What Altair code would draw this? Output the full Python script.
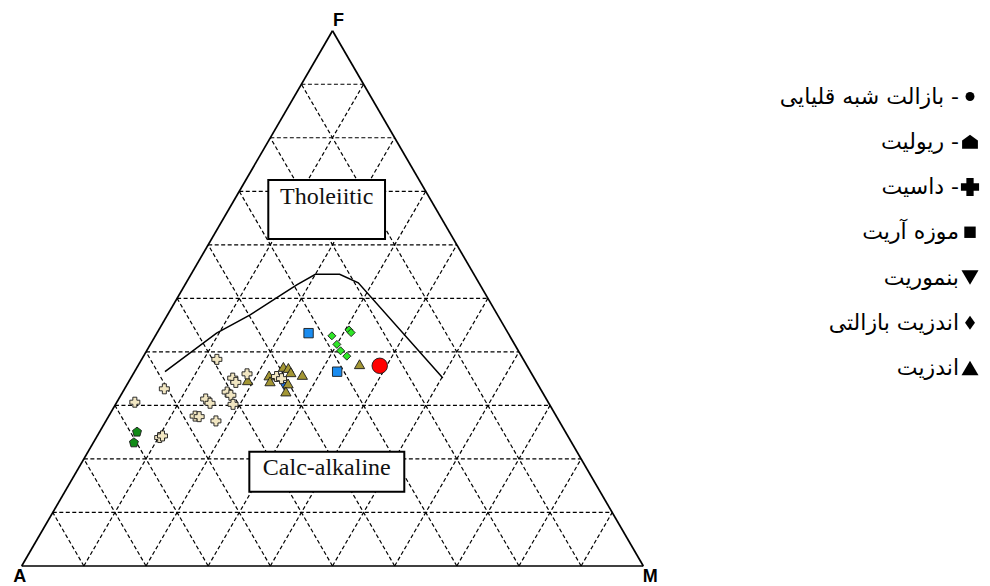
import altair as alt
import pandas as pd

# ---------------- data (ternary %, F = FeO*, M = MgO; A = 100 - F - M) ----------------
categories = ["بازالت شبه قلیایی", "ریولیت", "داسیت", "موزه آریت", "بنموریت", "اندزیت بازالتی", "اندزیت"]
legend_labels = ["بازالت شبه قلیایی -", "ریولیت -", "داسیت -", "موزه آریت", "بنموریت", "اندزیت بازالتی", "اندزیت"]

alk_basalt_F = [37.4]
alk_basalt_M = [38.9]
rhyolite_F = [25.1, 23.1]
rhyolite_M = [6.0, 6.5]
dacite_F = [38.6, 33.1, 30.6, 35.1, 34.3, 35.9, 31.2, 30.4, 32.5, 31.9, 30.2, 28.0, 27.9, 27.1, 24.0, 24.3, 35.4, 35.0]
dacite_M = [12.1, 6.4, 2.9, 16.4, 17.3, 18.3, 14.0, 15.1, 16.8, 17.7, 18.9, 13.9, 14.6, 17.7, 10.2, 10.5, 23.3, 24.3]
mugearite_F = [43.5, 36.3]
mugearite_M = [24.4, 32.6]
benmoreite_F = [33.6]
benmoreite_M = [25.4]
bas_andesite_F = [43.0, 44.1, 43.6, 41.4, 40.2, 39.2]
bas_andesite_M = [28.4, 30.6, 31.2, 30.0, 31.2, 32.7]
andesite_F = [34.7, 37.2, 37.0, 36.2, 35.7, 35.6, 34.5, 34.1, 32.6, 37.7]
andesite_M = [19.0, 23.5, 24.4, 25.2, 27.3, 22.0, 22.7, 25.8, 26.2, 35.5]

# Irvine & Baragar boundary
curve_F = [36.3, 43.5, 46.9, 50.9, 52.5, 54.5, 54.5, 52.9, 35.1]
curve_M = [4.9, 9.6, 13.3, 16.6, 18.0, 20.0, 23.9, 27.7, 50.2]

grid_ticks = [10, 20, 30, 40, 50, 60, 70, 80, 90]

field_names = ["Tholeiitic", "Calc-alkaline"]
field_box_x = [39.67, 36.62]
field_box_x2 = [58.45, 61.55]
field_box_y = [61.09, 13.88]
field_box_y2 = [72.11, 21.35]
field_text_x = [49.06, 49.08]
field_text_y = [67.63, 17.0]

corner_names = ["A", "F", "M"]

# ---------------- helpers ----------------
def tx(F, M):
    return M + F / 2.0

def ty(F, M):
    return F

X_DOM = [-2.204, 154.488]
Y_DOM = [-3.736, 104.241]
xs = alt.Scale(domain=X_DOM, nice=False, zero=False)
ys = alt.Scale(domain=Y_DOM, nice=False, zero=False)

def X(f):
    return alt.X(f, type="quantitative", scale=xs, axis=None)

def Y(f):
    return alt.Y(f, type="quantitative", scale=ys, axis=None)

# grid segments
g = []
for t in grid_ticks:
    g.append({"x": tx(t, 0), "y": ty(t, 0), "x2": tx(t, 100 - t), "y2": ty(t, 100 - t)})
    g.append({"x": tx(0, t), "y": ty(0, t), "x2": tx(100 - t, t), "y2": ty(100 - t, t)})
    g.append({"x": tx(0, 100 - t), "y": ty(0, 100 - t), "x2": tx(100 - t, 0), "y2": ty(100 - t, 0)})
grid_df = pd.DataFrame(g)

corners_F = [0, 0, 100]
corners_M = [0, 100, 0]
ol = []
for k in range(3):
    j = (k + 1) % 3
    ol.append({"x": tx(corners_F[k], corners_M[k]), "y": ty(corners_F[k], corners_M[k]),
               "x2": tx(corners_F[j], corners_M[j]), "y2": ty(corners_F[j], corners_M[j])})
outline_df = pd.DataFrame(ol)

curve_df = pd.DataFrame({"x": [tx(f, m) for f, m in zip(curve_F, curve_M)],
                         "y": [ty(f, m) for f, m in zip(curve_F, curve_M)],
                         "i": list(range(len(curve_F)))})

box_df = pd.DataFrame({"name": field_names, "x": field_box_x, "x2": field_box_x2,
                       "y": field_box_y, "y2": field_box_y2,
                       "tx": field_text_x, "ty": field_text_y})

grid = alt.Chart(grid_df).mark_rule(color="black", strokeWidth=1.2, strokeDash=[4, 2.5]).encode(
    x=X("x"), y=Y("y"), x2="x2", y2="y2")
outline = alt.Chart(outline_df).mark_rule(color="black", strokeWidth=1.7).encode(
    x=X("x"), y=Y("y"), x2="x2", y2="y2")
curve = alt.Chart(curve_df).mark_line(color="black", strokeWidth=1.5).encode(
    x=X("x"), y=Y("y"), order="i:Q")
boxes = alt.Chart(box_df).mark_rect(fill="white", stroke="black", strokeWidth=2).encode(
    x=X("x"), x2="x2", y=Y("y"), y2="y2")
box_text = alt.Chart(box_df).mark_text(font="Liberation Serif", fontSize=24, baseline="alphabetic",
                                       align="center", color="#111111").encode(
    x=X("tx"), y=Y("ty"), text="name:N")

# point styles per category (drawing order = list order)
point_sets = [
    ("بنموریت", benmoreite_F, benmoreite_M, "triangle-down", "#1a6fe0", 70),
    ("اندزیت", andesite_F, andesite_M, "triangle-up", "#a39634", 105),
    ("داسیت", dacite_F, dacite_M, "cross", "#f1e6c2", 100),
    ("ریولیت", rhyolite_F, rhyolite_M, "M0,-1L1,-0.25L0.65,1L-0.65,1L-1,-0.25Z", "#118a16", 80),
    ("موزه آریت", mugearite_F, mugearite_M, "square", "#1a8cf0", 88),
    ("اندزیت بازالتی", bas_andesite_F, bas_andesite_M, "diamond", "#2ee626", 64),
    ("بازالت شبه قلیایی", alk_basalt_F, alk_basalt_M, "circle", "#ff0000", 240),
]
point_layers = []
for cat, Fs, Ms, shp, col, sz in point_sets:
    df = pd.DataFrame({"cat": cat, "F": Fs, "M": Ms})
    df["A"] = 100 - df["F"] - df["M"]
    df["x"] = df["M"] + df["F"] / 2.0
    df["y"] = df["F"]
    point_layers.append(
        alt.Chart(df).mark_point(filled=True, shape=shp, size=sz, fill=col, stroke="#1a1a1a",
                                 strokeWidth=0.9, opacity=1).encode(x=X("x"), y=Y("y")))

corner_df = pd.DataFrame({"name": corner_names,
                          "x": [tx(0, 0), tx(100, 0), tx(0, 100)],
                          "y": [ty(0, 0), ty(100, 0), ty(0, 100)]})
corner_offsets = {"A": (-2, 16), "F": (6, -4.5), "M": (7, 16)}
corner_layers = []
for nm in corner_names:
    dx, dy = corner_offsets[nm]
    corner_layers.append(
        alt.Chart(corner_df).transform_filter(alt.datum.name == nm).mark_text(
            font="Liberation Sans", fontWeight="bold", fontSize=18, baseline="alphabetic",
            align="center", dx=dx, dy=dy, color="black").encode(x=X("x"), y=Y("y"), text="name:N"))

base = alt.layer(grid, outline, curve, boxes, box_text, *point_layers, *corner_layers)

# ---------------- legend ----------------
leg_df = pd.DataFrame({"cat": categories, "label": legend_labels, "row": list(range(len(categories)))})
leg_shapes = ["circle", "M0,-0.9L1,-0.15L1,0.9L-1,0.9L-1,-0.15Z", "cross", "square",
              "triangle-down", "M0,-1L0.72,0L0,1L-0.72,0Z", "triangle-up"]
leg_sizes = [80, 250, 330, 130, 290, 190, 290]
leg_y = alt.Y("row:O", scale=alt.Scale(type="point", domain=list(range(len(categories))),
                                       range=[88.5, 360], padding=0), axis=None)

leg_layers = []
for k in range(len(categories)):
    leg_layers.append(
        alt.Chart(leg_df).transform_filter(alt.datum.row == k).mark_point(
            filled=True, opacity=1, fill="black", strokeWidth=0,
            shape=leg_shapes[k], size=leg_sizes[k]).encode(x=alt.value(962), y=leg_y))
leg_txt = alt.Chart(leg_df).mark_text(font="DejaVu Sans", fontSize=22, align="right",
                                      baseline="middle", color="black").encode(
    x=alt.value(951), y=leg_y, text="label:N")
legend = alt.layer(*leg_layers, leg_txt)

chart = alt.layer(base, legend).resolve_scale(
    y="independent"
).properties(
    width=974, height=578, padding=0, autosize=alt.AutoSizeParams(type="none")
).configure_view(strokeWidth=0)

chart.save("out.html", embed_options={"renderer": "svg", "actions": False})
